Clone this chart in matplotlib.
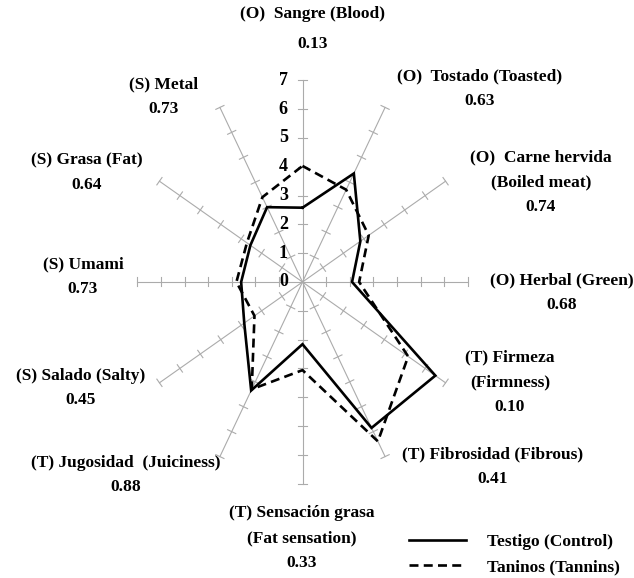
import numpy as np
import matplotlib
matplotlib.use("Agg")
import matplotlib.pyplot as plt

# atributos, en el orden de las agujas del reloj desde arriba
attributes = ["(O)  Sangre (Blood)\n0.13",
              "(O)  Tostado (Toasted)\n0.63",
              "(O)  Carne hervida\n(Boiled meat)\n0.74",
              "(O) Herbal (Green)\n0.68",
              "(T) Firmeza\n(Firmness)\n0.10",
              "(T) Fibrosidad (Fibrous)\n0.41",
              "(T) Sensación grasa\n(Fat sensation)\n0.33",
              "(T) Jugosidad  (Juiciness)\n0.88",
              "(S) Salado (Salty)\n0.45",
              "(S) Umami\n0.73",
              "(S) Grasa (Fat)\n0.64",
              "(S) Metal\n0.73"]
control = [2.58, 4.35, 2.83, 2.1, 6.5, 5.85, 2.16, 4.35, 2.85, 2.6, 2.55, 3.0]
tannins = [4.03, 3.7, 3.24, 2.4, 5.17, 6.39, 3.06, 4.3, 2.35, 2.8, 2.72, 3.4]
scale_ticks = [0, 1, 2, 3, 4, 5, 6, 7]
series_names = ["Testigo (Control)", "Taninos (Tannins)"]

# posiciones de las etiquetas (pixeles de la imagen)
label_pos = [(313, 29), (480, 89), (541, 182), (562, 293), (510, 382), (493, 467),
             (302, 538), (126, 475), (81, 388), (83, 277), (87, 173), (164, 97)]

W, H = 634, 578
cx, cy = 302.5, 282      # centro en pixeles
sx, sy = 23.6, 28.8      # pixeles por unidad (imagen estirada verticalmente)
rmax = 7

plt.rcParams['font.family'] = ['Liberation Serif', 'DejaVu Serif']
plt.rcParams['font.weight'] = 'bold'

fig = plt.figure(figsize=(W / 100, H / 100), dpi=100)
ax = fig.add_axes([0, 0, 1, 1])
ax.set_xlim(-cx / sx, (W - cx) / sx)
ax.set_ylim(-(H - cy) / sy, cy / sy)
ax.axis("off")

n = len(attributes)
angles = np.pi / 2 - np.arange(n) * 2 * np.pi / n

# ejes grises con marcas
grey = "#ababab"
for th in angles:
    ax.plot([0, rmax * np.cos(th)], [0, rmax * np.sin(th)], color=grey, lw=0.8, zorder=1)
    # direccion perpendicular en pixeles
    px_dir = np.array([np.cos(th) * sx, np.sin(th) * sy])
    px_dir /= np.linalg.norm(px_dir)
    perp = np.array([-px_dir[1], px_dir[0]]) * 4.5
    dx, dy = perp[0] / sx, perp[1] / sy
    for r in scale_ticks[1:]:
        x0, y0 = r * np.cos(th), r * np.sin(th)
        ax.plot([x0 - dx, x0 + dx], [y0 - dy, y0 + dy], color=grey, lw=0.8, zorder=1)

for t in scale_ticks:
    ax.text(-0.62, t, str(t), ha="right", va="center", fontsize=13, zorder=3)

def closed(vals):
    v = np.array(vals + vals[:1])
    a = np.concatenate([angles, angles[:1]])
    return v * np.cos(a), v * np.sin(a)

xc, yc = closed(control)
xt, yt = closed(tannins)
l1, = ax.plot(xc, yc, color="black", lw=1.9, solid_joinstyle="miter", zorder=4)
l2, = ax.plot(xt, yt, color="black", lw=1.9, linestyle=(0, (3.4, 2.0)), zorder=4)

for lab, (x, y) in zip(attributes, label_pos):
    sp = 2.1 if lab.startswith("(O)  Sangre") else 1.72
    fig.text(x / W, 1 - y / H, lab, ha="center", va="center", fontsize=12.5,
             linespacing=sp)

fig.legend([l1, l2], series_names, loc="upper left",
           bbox_to_anchor=(393 / W, 1 - 518 / H), frameon=False, fontsize=12.5,
           handlelength=3.3, handletextpad=1.2, labelspacing=0.55)

fig.savefig("out.png", dpi=100)
